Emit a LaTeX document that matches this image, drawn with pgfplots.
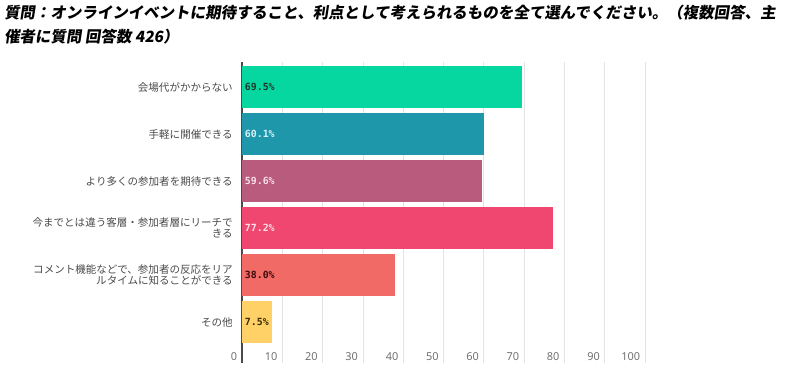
\documentclass[border=0pt]{standalone}
\usepackage{fontspec}
\usepackage{pgfplots}
\pgfplotsset{compat=1.18}
\setmainfont{Noto Sans CJK JP}
\newfontfamily\titlefont[FakeSlant=0.15]{Noto Sans CJK JP}
\newfontfamily\valfont{DejaVu Sans Mono}
\newfontfamily\tickfont{Noto Sans}
\definecolor{c1}{HTML}{06D6A0}
\definecolor{c2}{HTML}{1F97AA}
\definecolor{c3}{HTML}{B85B7D}
\definecolor{c4}{HTML}{EF476F}
\definecolor{c5}{HTML}{F26A65}
\definecolor{c6}{HTML}{FFD166}
\definecolor{t1}{HTML}{1B3A2C}
\definecolor{t2}{HTML}{D8F2F8}
\definecolor{t3}{HTML}{F8E0EA}
\definecolor{t4}{HTML}{FBE0E8}
\definecolor{t5}{HTML}{3A0C0C}
\definecolor{t6}{HTML}{3A2A05}
\definecolor{lab}{HTML}{4A4A4A}
\definecolor{tick}{HTML}{707070}
\begin{document}
\begin{tikzpicture}
\path[use as bounding box] (0pt,0pt) rectangle (600pt,279pt);
\node[anchor=north west, align=left, inner sep=0pt,
  font=\titlefont\bfseries\fontsize{11.6}{17.5}\selectfont] at (3pt,275pt)
  {質問：オンラインイベントに期待すること、利点として考えられるものを全て選んでください。（複数回答、主\\催者に質問\ 回答数\ 426）};
\begin{axis}[
  at={(181.5pt,6.75pt)}, anchor=south west,
  scale only axis, width=302.25pt, height=225.75pt,
  xmin=0, xmax=100, ymin=-0.532, ymax=5.87, y dir=reverse,
  axis lines=left,
  x axis line style={draw=none,-},
  y axis line style={draw=lab, line width=1.1pt,-},
  major tick length=0pt,
  xtick={0,10,...,100},
  xmajorgrids, grid style={gray!22, line width=0.6pt},
  ytick={0,1,2,3,4,5},
  yticklabels={{会場代がかからない},{手軽に開催できる},{より多くの参加者を期待できる},{今までとは違う客層・参加者層にリーチで\\きる},{コメント機能などで、参加者の反応をリア\\ルタイムに知ることができる},{その他}},
  yticklabel style={align=right, inner sep=0pt, xshift=-6.75pt, text=lab,
    font=\fontsize{7.9}{8.2}\selectfont},
  xticklabel style={anchor=east, inner sep=0pt, xshift=-3.5pt, yshift=4.5pt, text=tick,
    font=\tickfont\fontsize{8.2}{9}\selectfont},
  /pgf/number format/assume math mode=true,
  clip=false,
  valstyle/.style={draw=none, mark=none,
    every node near coord/.append style={anchor=west, inner sep=0pt, xshift=2pt, yshift=0pt,
    font=\valfont\bfseries\fontsize{7.4}{8}\selectfont, text=#1}},
]
\addplot[xbar, bar width=31.5pt, bar shift=0pt, fill=c1, draw=none] coordinates {(69.5,0)};
\addplot[xbar, bar width=31.5pt, bar shift=0pt, fill=c2, draw=none] coordinates {(60.1,1)};
\addplot[xbar, bar width=31.5pt, bar shift=0pt, fill=c3, draw=none] coordinates {(59.6,2)};
\addplot[xbar, bar width=31.5pt, bar shift=0pt, fill=c4, draw=none] coordinates {(77.2,3)};
\addplot[xbar, bar width=31.5pt, bar shift=0pt, fill=c5, draw=none] coordinates {(38.0,4)};
\addplot[xbar, bar width=31.5pt, bar shift=0pt, fill=c6, draw=none] coordinates {(7.5,5)};
\addplot[valstyle=t1, nodes near coords={69.5\%}] coordinates {(0,0)};
\addplot[valstyle=t2, nodes near coords={60.1\%}] coordinates {(0,1)};
\addplot[valstyle=t3, nodes near coords={59.6\%}] coordinates {(0,2)};
\addplot[valstyle=t4, nodes near coords={77.2\%}] coordinates {(0,3)};
\addplot[valstyle=t5, nodes near coords={38.0\%}] coordinates {(0,4)};
\addplot[valstyle=t6, nodes near coords={7.5\%}] coordinates {(0,5)};
\end{axis}
\end{tikzpicture}
\end{document}
